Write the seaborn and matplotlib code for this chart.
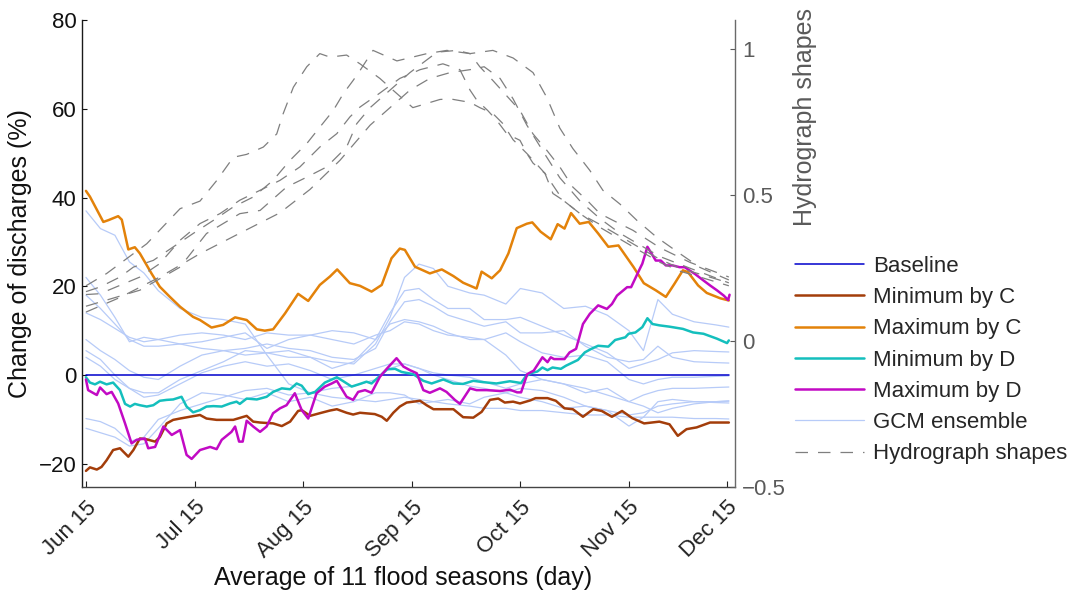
import matplotlib
matplotlib.use("Agg")
import matplotlib.pyplot as plt
import seaborn as sns
import numpy as np

# ---------------- data (day index 0 = Jun 15) ----------------
tick_days = [0, 30, 60, 90, 120, 150, 177]
tick_labels = ["Jun 15", "Jul 15", "Aug 15", "Sep 15", "Oct 15", "Nov 15", "Dec 15"]

baseline_days = [0, 177.6]
baseline_vals = [0, 0]

maxC_days = [0, 1.1, 4.8, 6.2, 8.9, 9.9, 11.7, 13.5, 14.9, 18.1, 20.4, 23.2, 26.0, 29.6, 31.5, 34.7,
             37.9, 41.2, 44.4, 47.2, 49.4, 51.7, 55.0, 58.6, 61.4, 64.6, 67.4, 69.4, 72.9, 75.7, 78.9,
             81.7, 84.4, 86.7, 88.1, 90.9, 95.0, 98.3, 101.5, 104.2, 107.9, 109.3, 112.1, 114.4, 116.7,
             119.0, 121.8, 123.3, 125.6, 128.4, 130.3, 132.2, 134.0, 136.4, 138.9, 141.5, 144.3, 147.1,
             151.3, 154.1, 157.4, 160.2, 162.6, 164.9, 166.3, 169.1, 171.5, 175.2, 177.6]
maxC_vals = [41.5, 40.2, 34.5, 34.9, 35.8, 35.0, 28.3, 28.8, 27.4, 22.9, 19.9, 17.6, 15.4, 13.1, 12.4, 10.7,
             11.3, 13.0, 12.4, 10.3, 10.0, 10.3, 13.9, 18.3, 16.7, 20.3, 22.2, 23.8, 20.7, 20.1, 18.8,
             20.3, 26.3, 28.5, 28.2, 24.4, 22.9, 23.8, 22.3, 20.8, 19.5, 23.3, 21.8, 23.6, 27.4,
             33.1, 34.1, 34.4, 32.3, 30.6, 34.0, 33.0, 36.5, 34.1, 34.5, 31.9, 28.9, 29.2,
             24.3, 20.7, 19.1, 17.6, 20.6, 23.6, 23.2, 20.2, 18.5, 17.3, 16.8]

minC_days = [0, 1.1, 3.0, 4.3, 5.7, 7.5, 9.4, 11.7, 13.1, 14.9, 16.8, 19.1, 20.4, 22.3, 24.1, 26.0, 28.7,
             31.5, 33.3, 36.1, 40.7, 44.4, 46.2, 48.1, 51.7, 54.1, 56.4, 58.6, 59.6, 61.9, 64.6, 67.4,
             69.3, 72.0, 73.8, 75.7, 79.8, 81.7, 83.1, 84.9, 86.7, 88.6, 92.3, 94.1, 96.0, 101.5, 104.2,
             107.0, 109.3, 111.6, 113.9, 115.7, 118.0, 119.9, 122.8, 124.2, 127.5, 129.8, 132.2, 134.5,
             137.3, 140.1, 142.5, 145.3, 148.1, 150.9, 154.2, 158.4, 161.2, 163.5, 165.9, 168.7, 172.4, 177.6]
minC_vals = [-21.6, -20.8, -21.3, -20.7, -19.2, -16.9, -16.5, -18.4, -16.9, -14.3, -14.5, -15.0, -14.0,
             -10.9, -10.1, -9.8, -9.4, -9.0, -9.8, -10.1, -10.1, -9.2, -10.5, -10.7, -10.9, -11.5, -10.5,
             -8.1, -7.9, -9.2, -8.6, -8.0, -7.7, -8.5, -8.9, -8.5, -8.8, -9.4, -10.3, -8.5, -7.1, -6.2,
             -5.8, -6.8, -7.7, -7.7, -9.5, -9.6, -8.3, -5.6, -5.3, -6.2, -6.0, -6.4, -5.7, -5.2, -5.2,
             -5.8, -7.5, -7.7, -9.4, -7.7, -8.1, -9.4, -8.1, -9.7, -10.9, -10.5, -11.1, -13.7, -12.2,
             -11.8, -10.7, -10.7]

minD_days = [0, 1.1, 2.5, 3.9, 5.7, 7.5, 9.4, 10.8, 12.2, 13.5, 14.9, 16.8, 18.6, 20.4, 22.3, 24.1, 26.4,
             27.8, 29.6, 31.5, 33.3, 35.2, 37.5, 39.8, 41.6, 42.5, 44.4, 47.2, 49.9, 51.7, 54.1, 56.4,
             58.2, 59.6, 61.4, 63.3, 66.0, 69.3, 71.1, 73.4, 75.7, 77.5, 78.9, 81.2, 83.2, 85.4, 87.2,
             90.4, 93.2, 95.5, 98.7, 101.5, 104.2, 107.0, 109.7, 113.4, 117.1, 120.2, 121.4, 122.8, 124.7,
             126.1, 127.5, 128.9, 131.2, 132.6, 135.9, 137.8, 139.6, 141.5, 144.3, 146.2, 149.0, 149.9,
             151.8, 153.7, 155.1, 156.5, 158.4, 161.2, 164.9, 167.7, 170.6, 174.3, 177.1, 177.6]
minD_vals = [-0.5, -1.7, -2.1, -1.5, -2.1, -1.7, -3.4, -6.5, -7.1, -6.5, -6.8, -7.1, -6.8, -5.8, -5.6,
             -5.5, -4.9, -7.1, -8.4, -7.9, -7.1, -7.0, -7.1, -6.4, -6.0, -6.5, -5.3, -5.5, -4.9, -3.8,
             -3.0, -3.2, -1.9, -2.4, -4.3, -3.8, -1.7, -0.5, -1.4, -2.6, -2.0, -1.5, -1.9, -0.2, 1.3,
             1.4, 0.7, 0.2, -1.3, -1.9, -1.0, -1.9, -2.0, -1.3, -1.6, -1.9, -1.4, -1.8, -0.4, 0.4, 0.8,
             1.7, 1.1, 1.7, 1.4, 2.1, 3.4, 5.1, 5.9, 6.6, 6.4, 7.9, 8.5, 9.3, 9.6, 10.8, 12.8, 11.5,
             11.2, 10.9, 10.4, 9.6, 9.3, 8.2, 7.2, 7.8]

maxD_days = [0, 0.6, 3.0, 3.9, 5.7, 7.1, 8.9, 10.8, 12.6, 14.0, 16.3, 17.2, 19.1, 21.4, 23.7, 26.0, 27.8,
             29.2, 31.5, 34.3, 36.1, 37.5, 40.2, 41.2, 42.3, 43.3, 44.4, 46.2, 48.1, 49.9, 51.7, 53.6,
             55.4, 57.7, 59.6, 61.4, 63.7, 66.0, 67.9, 69.3, 72.0, 73.8, 75.2, 77.1, 78.9, 81.2, 83.2,
             85.8, 87.7, 89.5, 91.4, 93.2, 95.0, 97.8, 99.6, 101.9, 103.3, 106.1, 107.9, 110.7, 114.4,
             117.1, 119.1, 120.2, 121.9, 123.7, 126.1, 127.5, 128.4, 129.3, 132.2, 133.6, 135.4, 137.3,
             139.2, 141.5, 143.9, 145.3, 146.7, 149.5, 150.6, 152.8, 153.7, 155.1, 156.0, 157.4, 158.8,
             160.2, 162.1, 164.0, 165.4, 168.2, 170.6, 172.4, 174.3, 176.2, 177.4, 177.8]
maxD_vals = [-1.0, -3.4, -4.5, -2.8, -4.3, -3.8, -6.4, -10.9, -15.4, -14.6, -14.3, -16.5, -16.2, -11.6,
             -13.5, -12.4, -18.0, -18.9, -16.9, -16.2, -16.7, -14.6, -12.8, -11.6, -15.0, -15.0, -10.3,
             -11.6, -12.8, -11.6, -8.6, -7.5, -6.8, -4.1, -7.9, -9.8, -4.1, -2.6, -1.9, -1.3, -4.9,
             -5.6, -3.8, -3.4, -4.0, -0.4, 1.5, 3.8, 1.9, 1.1, 0.4, -3.4, -4.0, -3.0, -3.8, -5.6, -6.5,
             -3.0, -3.4, -3.4, -3.6, -3.3, -3.9, -3.9, 0.2, 1.0, 4.0, 2.9, 4.0, 3.6, 3.6, 5.1, 5.9, 11.5,
             13.8, 15.7, 14.9, 16.0, 17.9, 19.8, 19.8, 23.6, 25.1, 28.9, 27.7, 25.8, 25.8, 24.7, 24.7,
             24.3, 24.3, 22.8, 21.3, 20.2, 19.1, 17.9, 16.9, 18.1]

# GCM ensemble members (day, value) key readings
gcm_days = [0, 4, 8, 12, 16, 20, 26, 32, 38, 44, 50, 56, 62, 68, 74, 80, 84, 88, 92, 96, 100, 106,
            110, 116, 120, 126, 132, 138, 144, 150, 154, 158, 162, 168, 174, 177.6]
gcm_1 = [37, 33, 31.5, 25.5, 23, 19, 15, 13, 12.5, 11.5, 4.5, -2, -4, -5, -5.5, -6, -5.5, -5, -5.5, -6,
         -6.5, -7, -7.5, -7.5, -8, -8, -8.5, -9, -9, -9.5, -9.5, -9.5, -9.5, -9.8, -9.8, -9.9]
gcm_2 = [22, 18, 13, 7.5, 8.5, 8, 7, 7.5, 8.5, 9.5, 6, 8, 9, 10, 9.5, 8, 14, 19, 19.5, 17, 15, 15,
         12.5, 12.5, 13, 11, 9, 7, 5, 1.5, 2.5, 3.5, 5, 5.5, 5.3, 5.2]
gcm_3 = [18, 15, 11.5, 8, 6.5, 6.5, 7, 6, 5.5, 4.5, 5, 4, 4, 3, 2.5, 7, 13, 22, 25, 24, 20, 18.5,
         18, 16, 19.5, 18.5, 15, 15.5, 13.5, 10, 5.5, 17, 13.7, 12, 11.3, 10.8]
gcm_4 = [8, 5.5, 3.5, 1, -0.5, -1, 2, 4.5, 5.5, 6, 7, 6, 5.5, 4, 3.5, 6, 12, 16.5, 17, 15.5, 13.5, 12,
         11, 12, 9.5, 9.5, 10, 6.5, 4, 3, 3.5, 6.5, 4, 3, 2.8, 2.7]
gcm_5 = [5.5, 3.5, 0, -3, -4, -4, -1, 1, 3, 5.5, 5, 5.5, 4, 1.5, 3, 8, 11.5, 12.5, 12, 11, 9.5, 8,
         8, 9.5, 7.5, 5, 4, 4.5, 3, -1, -2, -1, -0.5, -0.5, -0.3, -0.2]
gcm_6 = [4, 2, -1, -3, -5, -4.5, -2, 0.5, 2, 3, 2, 2.5, 1, -1, 0, 1.5, 2.5, 2.5, 1.5, 0.5, 0, -0.5,
         -1.5, -3, -2, -1, -2, -4, -3, -6, -4.5, -3.5, -3, -3, -2.8, -2.7]
gcm_7 = [-9.8, -10.5, -12, -15, -14, -10, -8, -6.5, -5, -3.5, -3, -4.5, -4, -3, -2.5, -1, 1.5, 2.5,
         1.5, 0, -1, -2.5, -3, -4, -3, -3.5, -5, -7, -8, -11.5, -9.5, -6, -5.5, -6, -6.2, -6.3]
gcm_8 = [-12, -13, -14, -16, -15.5, -12, -6.5, -4, -4.5, -5.5, -4, -6, -5, -7, -6, -4, -4, -4.5, -6.5,
         -6, -5.5, -6.5, -5, -4, -5, -6, -7.5, -7, -8, -9, -8.5, -7, -6.5, -6, -6, -5.9]
gcm_9 = [14, 12.5, 10.5, 8.5, 7.5, 8, 9, 9.5, 9, 8, 9.5, 9, 9, 8, 7, 9, 10, 12, 11.5, 10, 9, 8.5,
         8, 4.5, 1, -1, -2, -3, -4.5, -6, -7, -8.5, -7.5, -6.5, -6, -5.8]
gcm_members = [gcm_1, gcm_2, gcm_3, gcm_4, gcm_5, gcm_6, gcm_7, gcm_8, gcm_9]

# Hydrograph shapes (right axis)
hyd_a_days = [0, 5.7, 16.8, 26.0, 31.5, 36.1, 40.7, 44.4, 49.0, 52.7, 54.5, 57.3, 61.0, 64.6, 67.4, 72.0,
              75.7, 81.2, 84.8, 90.3, 97.8, 100.6, 106.1, 108.8, 112.4, 115.2, 118.0, 121.8, 126.8,
              131.8, 136.5, 142.0, 147.5, 153.0, 158.6, 164.1, 169.6, 177.6]
hyd_a_vals = [0.19, 0.232, 0.334, 0.454, 0.48, 0.55, 0.63, 0.64, 0.665, 0.71, 0.78, 0.87, 0.94, 0.985,
              0.973, 0.98, 0.95, 0.9, 0.86, 0.80, 0.828, 0.83, 0.818, 0.80, 0.78, 0.745, 0.69, 0.643,
              0.575, 0.483, 0.437, 0.39, 0.35, 0.31, 0.27, 0.24, 0.22, 0.19]
hyd_b_days = [0, 3.9, 9.4, 13.1, 18.6, 24.1, 29.6, 35.2, 40.7, 46.2, 51.7, 56.4, 61.0, 64.6, 68.3, 71.1,
              73.8, 75.7, 79.3, 85.9, 94.2, 99.7, 106.1, 108.8, 112.4, 119.9, 123.5, 127.3, 130.9, 134.5,
              138.4, 142.0, 145.6, 151.1, 158.6, 166.9, 177.6]
hyd_b_vals = [0.17, 0.186, 0.22, 0.254, 0.277, 0.323, 0.369, 0.414, 0.46, 0.494, 0.551, 0.62, 0.677,
              0.733, 0.79, 0.848, 0.893, 0.927, 0.996, 0.96, 0.985, 0.996, 0.985, 0.94, 0.893, 0.79,
              0.71, 0.654, 0.597, 0.528, 0.483, 0.437, 0.414, 0.38, 0.32, 0.27, 0.22]
hyd_c_days = [0, 3.9, 14.9, 20.4, 26.0, 31.5, 37.0, 42.5, 48.1, 53.6, 59.1, 64.6, 69.3, 72.9, 75.7, 81.2,
              86.7, 92.3, 98.6, 103.3, 106.1, 108.0, 111.0, 113.5, 116.3, 119.9, 121.8, 123.5, 126.8,
              129.0, 131.8, 136.5, 142.0, 147.5, 153.0, 158.6, 164.1, 169.6, 177.6]
hyd_c_vals = [0.16, 0.163, 0.22, 0.266, 0.346, 0.403, 0.437, 0.483, 0.517, 0.551, 0.597, 0.665, 0.711,
              0.768, 0.802, 0.85, 0.9, 0.93, 0.95, 0.93, 0.86, 0.825, 0.79, 0.756, 0.71, 0.688, 0.643,
              0.61, 0.575, 0.506, 0.483, 0.437, 0.40, 0.36, 0.32, 0.28, 0.25, 0.23, 0.20]
hyd_d_days = [0, 14.9, 26.0, 33.3, 42.5, 48.1, 55.4, 61.0, 66.5, 72.0, 74.8, 78.5, 84.0, 89.5, 97.0, 102.5,
              106.1, 112.4, 118.0, 123.5, 127.3, 130.9, 134.5, 139.2, 142.8, 147.5, 152.2, 157.7, 164.1,
              169.6, 177.6]
hyd_d_vals = [0.12, 0.175, 0.254, 0.369, 0.437, 0.448, 0.528, 0.562, 0.597, 0.665, 0.745, 0.8, 0.86,
              0.92, 0.99, 0.996, 0.985, 0.996, 0.97, 0.92, 0.835, 0.73, 0.66, 0.585, 0.517, 0.47, 0.414,
              0.356, 0.3, 0.253, 0.21]
hyd_e_days = [0, 9.4, 20.4, 31.5, 42.5, 53.6, 61.9, 70.2, 78.5, 84.0, 89.5, 95.0, 100.6, 106.1, 110.0,
              114.4, 118.0, 121.8, 126.8, 130.9, 136.5, 142.0, 147.5, 153.0, 158.6, 166.9, 177.6]
hyd_e_vals = [0.10, 0.15, 0.22, 0.30, 0.37, 0.44, 0.52, 0.62, 0.74, 0.80, 0.86, 0.90, 0.92, 0.93, 0.94,
              0.90, 0.83, 0.74, 0.64, 0.56, 0.48, 0.42, 0.37, 0.33, 0.29, 0.25, 0.20]
hydrographs = [(hyd_a_days, hyd_a_vals), (hyd_b_days, hyd_b_vals), (hyd_c_days, hyd_c_vals),
               (hyd_d_days, hyd_d_vals), (hyd_e_days, hyd_e_vals)]

# ---------------- styling ----------------
sns.set_theme(style="white")
plt.rcParams["font.family"] = ["Liberation Sans", "DejaVu Sans"]
plt.rcParams["axes.unicode_minus"] = True

C_BASE = "#0000cc"
C_MINC = "#a33d0a"
C_MAXC = "#e3820a"
C_MIND = "#14bfbd"
C_MAXD = "#c20ac4"
C_GCM = "#b7cbf8"
C_HYD = "#7f7f7f"
GRAY_AX = "#5a5a5a"

fig = plt.figure(figsize=(10.73, 5.94), dpi=100)
ax = fig.add_axes([0.0764, 0.1796, 0.6086, 0.7867])
ax2 = ax.twinx()

# GCM ensemble
for i, member in enumerate(gcm_members):
    sns.lineplot(x=gcm_days, y=member, ax=ax, color=C_GCM, linewidth=0.9,
                 label="GCM ensemble" if i == 0 else None, legend=False, zorder=1)

sns.lineplot(x=baseline_days, y=baseline_vals, ax=ax, color=C_BASE, linewidth=1.1,
             label="Baseline", legend=False, zorder=3)
sns.lineplot(x=minC_days, y=minC_vals, ax=ax, color=C_MINC, linewidth=1.8,
             label="Minimum by C", legend=False, zorder=4, sort=False)
sns.lineplot(x=maxC_days, y=maxC_vals, ax=ax, color=C_MAXC, linewidth=1.8,
             label="Maximum by C", legend=False, zorder=4, sort=False)
sns.lineplot(x=minD_days, y=minD_vals, ax=ax, color=C_MIND, linewidth=1.8,
             label="Minimum by D", legend=False, zorder=4, sort=False)
sns.lineplot(x=maxD_days, y=maxD_vals, ax=ax, color=C_MAXD, linewidth=1.8,
             label="Maximum by D", legend=False, zorder=4, sort=False)

for i, (hd, hv) in enumerate(hydrographs):
    sns.lineplot(x=hd, y=hv, ax=ax2, color=C_HYD, linewidth=0.9, linestyle=(0, (10, 8)),
                 label="Hydrograph shapes" if i == 0 else None, legend=False, sort=False)

for a in (ax, ax2):
    if a.get_legend() is not None:
        a.get_legend().remove()

# axes limits and ticks
ax.set_xlim(-1.1, 179.3)
ax.set_ylim(-25.3, 80)
ax2.set_ylim(-0.5, 1.1)
ax.set_xticks(tick_days)
ax.set_xticklabels(tick_labels, rotation=45, ha="right", rotation_mode="anchor")
ax.set_yticks([-20, 0, 20, 40, 60, 80])
ax2.set_yticks([-0.5, 0, 0.5, 1])
ax2.set_yticklabels(["\u22120.5", "0", "0.5", "1"])

ax.tick_params(axis="x", direction="in", length=4.5, width=0.8, pad=7, labelsize=16, colors="#222222",
               bottom=True)
ax.tick_params(axis="y", direction="in", length=3.5, width=0.8, pad=4, labelsize=16, colors="#111111",
               left=True)
ax2.tick_params(axis="y", direction="in", length=3.5, width=0.8, pad=5, labelsize=16, colors=GRAY_AX,
                right=True)

for a in (ax, ax2):
    a.spines["top"].set_visible(False)
ax.spines["right"].set_visible(False)
ax2.spines["left"].set_visible(False)
ax2.spines["bottom"].set_visible(False)
ax.spines["left"].set_color("#1a1a1a")
ax.spines["bottom"].set_color("#444444")
ax2.spines["right"].set_color("#6a6a6a")
for sp in ("left", "bottom"):
    ax.spines[sp].set_linewidth(1.0)
ax2.spines["right"].set_linewidth(1.0)

ax.set_xlabel("Average of 11 flood seasons (day)", fontsize=18, color="#111111")
ax.xaxis.set_label_coords(0.4916, -0.168)
ax.set_ylabel("Change of discharges (%)", fontsize=18, color="#111111")
ax.yaxis.set_label_coords(-0.077, 0.5)
ax2.set_ylabel("")
fig.text(805 / 1073, 1 - 117 / 594, "Hydrograph shapes", rotation=90, ha="center", va="center",
         fontsize=18, color=GRAY_AX)

# legend
h1, l1 = ax.get_legend_handles_labels()
h2, l2 = ax2.get_legend_handles_labels()
hmap = dict(zip(l1 + l2, h1 + h2))
order = ["Baseline", "Minimum by C", "Maximum by C", "Minimum by D", "Maximum by D",
         "GCM ensemble", "Hydrograph shapes"]
fig.legend([hmap[k] for k in order], order, loc="upper left",
           bbox_to_anchor=(795 / 1073, 1 - 256 / 594), frameon=False, fontsize=16,
           borderpad=0, borderaxespad=0, handlelength=3.1, handletextpad=0.4, labelspacing=0.46)

fig.savefig("out.png", dpi=100)
